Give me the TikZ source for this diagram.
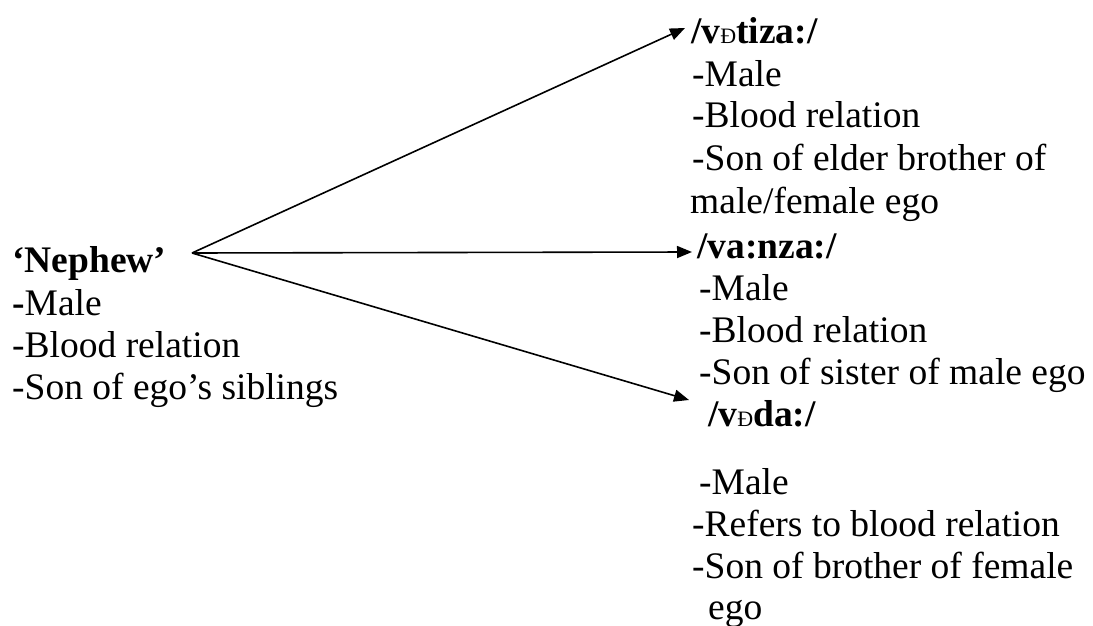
\documentclass[tikz,border=0pt]{standalone}
\usepackage{fontspec}
\setmainfont{Liberation Serif}
\usetikzlibrary{arrows.meta}
% small upright eth used inside the bold transcriptions
\newcommand{\smalleth}{{\fontsize{22}{22}\selectfont\mdseries Ð}}
\begin{document}
\begin{tikzpicture}[x=1pt,y=-1pt,
  txt/.style={anchor=base west, inner sep=0pt, font=\fontsize{37.5}{42}\selectfont},
  ttl/.style={txt, font=\fontsize{37.5}{42}\selectfont\bfseries},
  link/.style={line width=1.6pt, -{Triangle[length=15pt,width=12pt]}}]
\useasboundingbox (0,0) rectangle (1093,626);

% general term
\node[ttl] (neph)  at (12,272) {‘Nephew’};
\node[txt] (nm)    at (12,315) {\textbf{-}Male};
\node[txt] (nb)    at (12,357) {-Blood relation};
\node[txt] (ns)    at (12,399) {-Son of ego’s siblings};

% first term
\node[ttl] (t1)    at (691,44)  {/v\smalleth tiza:/};
\node[txt] (t1m)   at (692,86)  {-Male};
\node[txt] (t1b)   at (692,128) {-Blood relation};
\node[txt] (t1s)   at (692,170) {-Son of elder brother of};
\node[txt] (t1s2)  at (690,213) {male/female ego};

% second term
\node[ttl] (t2)    at (697,258) {/va:nza:/};
\node[txt] (t2m)   at (699,300) {-Male};
\node[txt] (t2b)   at (699,342) {-Blood relation};
\node[txt] (t2s)   at (699,384) {-Son of sister of male ego};

% third term
\node[ttl] (t3)    at (708,426) {/v\smalleth da:/};
\node[txt] (t3m)   at (699,494) {-Male};
\node[txt] (t3b)   at (692,536) {-Refers to blood relation};
\node[txt] (t3s)   at (692,578) {-Son of brother of female};
\node[txt] (t3s2)  at (708,619) {ego};

% arrows fanning out from the general term
\coordinate (src) at (192,253);
\coordinate (e1) at (685,28);
\coordinate (e2) at (692,252);
\coordinate (e3) at (689,400);
\draw[link] (src) -- (e1);
\draw[link] (src) -- (e2);
\draw[link] (src) -- (e3);
\end{tikzpicture}
\end{document}
